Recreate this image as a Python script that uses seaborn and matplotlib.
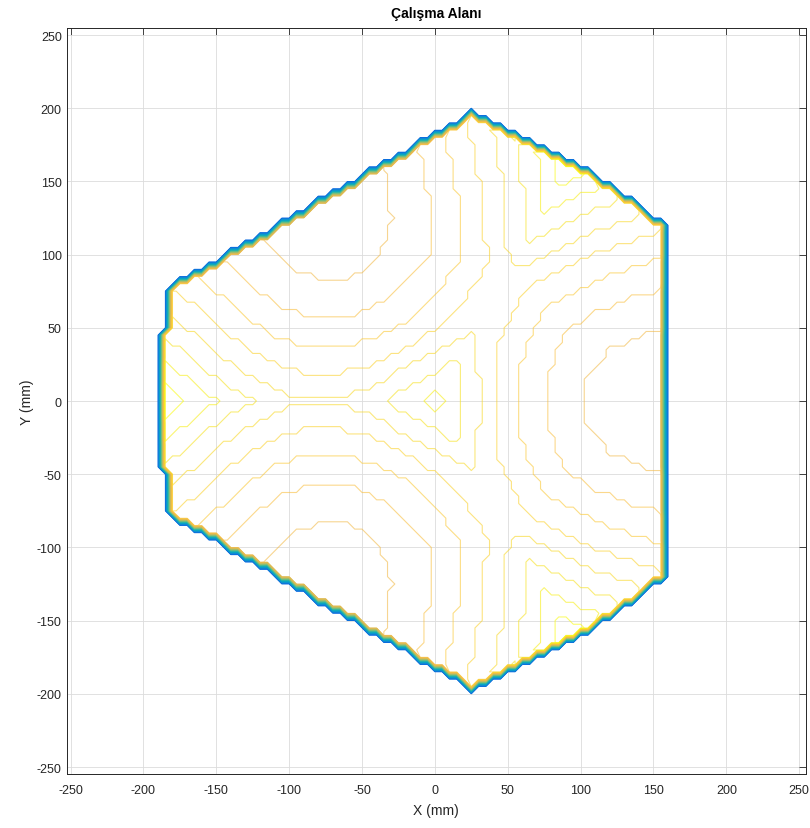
import numpy as np
import matplotlib
matplotlib.use('Agg')
import matplotlib.pyplot as plt
import seaborn as sns
from matplotlib.colors import LinearSegmentedColormap, Normalize

# workspace outline (mm)
GRID_STEP = 5
LONG_EDGE_DIST = 157          # three straight sides (normals at 0, 120, 240 deg)
ARC_CENTER_DIST = 393         # three curved short sides
ARC_RADIUS = 580

# contour level read along the ridge / valley directions of the picture
LEFT_RIDGE_R = [0, 10, 33, 60, 80, 100, 123, 149, 170, 185, 200]
LEFT_RIDGE_V = [29.9, 29.45, 28.5, 27.7, 27.6, 27.8, 28.5, 29.5, 30.5, 31.3, 32.0]
SIDE_RIDGE_R = [0, 10, 33, 50, 60, 80, 100, 112, 123, 149, 170, 185, 200]
SIDE_RIDGE_V = [29.9, 29.45, 28.5, 27.75, 27.45, 27.4, 27.45, 27.9, 28.5, 29.5, 30.5, 31.3, 32.0]
BASIN_R = [0, 5, 16, 31, 41, 56, 77, 101, 125, 150, 200]
BASIN_V = [29.9, 29.5, 28.5, 27.5, 26.5, 25.5, 24.5, 23.5, 23.0, 22.8, 22.6]

TICKS = [-250, -200, -150, -100, -50, 0, 50, 100, 150, 200, 250]
TITLE = 'Çalışma Alanı'
XLABEL = 'X (mm)'
YLABEL = 'Y (mm)'

PARULA = [
    (0.2081, 0.1663, 0.5292), (0.1959, 0.2645, 0.7279), (0.0117, 0.3875, 0.8820),
    (0.0498, 0.4586, 0.8641), (0.0793, 0.5200, 0.8312), (0.0343, 0.5966, 0.8199),
    (0.0228, 0.6535, 0.7768), (0.0843, 0.6928, 0.7062), (0.2178, 0.7250, 0.6193),
    (0.3953, 0.7459, 0.5244), (0.5709, 0.7485, 0.4494), (0.7184, 0.7411, 0.3905),
    (0.8507, 0.7299, 0.3360), (0.9739, 0.7314, 0.2666), (0.9880, 0.8066, 0.1794),
    (0.9626, 0.8705, 0.1309), (0.9763, 0.9831, 0.0538),
]


def build_field():
    ax_vals = np.arange(-250, 250 + GRID_STEP, GRID_STEP)
    X, Y = np.meshgrid(ax_vals, ax_vals)
    inside = np.ones_like(X, dtype=bool)
    for a in np.deg2rad([0, 120, 240]):
        inside &= X * np.cos(a) + Y * np.sin(a) <= LONG_EDGE_DIST
        cx, cy = ARC_CENTER_DIST * np.cos(a), ARC_CENTER_DIST * np.sin(a)
        inside &= np.hypot(X - cx, Y - cy) <= ARC_RADIUS

    r = np.hypot(X, Y)
    th = np.arctan2(Y, X)
    w = np.sqrt((1 + np.cos(3 * th)) / 2)
    # ridge profile switches where the valley weight is 1, so no seam
    ridge = np.where(np.abs(th) > 2 * np.pi / 3,
                     np.interp(r, LEFT_RIDGE_R, LEFT_RIDGE_V),
                     np.interp(r, SIDE_RIDGE_R, SIDE_RIDGE_V))
    f = (1 - w) * ridge + w * np.interp(r, BASIN_R, BASIN_V)
    Z = np.where(inside, np.round(f), 0.0)
    return X, Y, Z


sns.set_style('white')
plt.rcParams['font.family'] = ['Liberation Sans', 'DejaVu Sans']
plt.rcParams['axes.unicode_minus'] = False

X, Y, Z = build_field()
levels = np.arange(0.5, Z.max() + 0.5, 1.0)
cmap = LinearSegmentedColormap.from_list('parula', PARULA)
norm = Normalize(vmin=-4, vmax=levels.max())
low = levels[levels < 23]
high = levels[levels > 23]

fig = plt.figure(figsize=(8.10, 8.29), dpi=100)
ax = fig.add_axes([0.0823, 0.0651, 0.9128, 0.9003])
ax.contour(X, Y, Z, levels=low, cmap=cmap, norm=norm, linewidths=0.8)
ax.contour(X, Y, Z, levels=high, cmap=cmap, norm=norm, linewidths=0.8, alpha=0.6)

ax.set_xlim(-252.7, 254.7)
ax.set_ylim(-254.8, 255)
ax.set_xticks(TICKS)
ax.set_yticks(TICKS)
ax.grid(True, color='#dcdcdc', linewidth=0.6)
ax.set_axisbelow(True)
ax.tick_params(direction='in', length=5, width=0.6, top=True, right=True,
               labelsize=9, colors='#262626')
ax.tick_params(axis='x', pad=7)
for s in ax.spines.values():
    s.set_color('#262626')
    s.set_linewidth(0.7)

ax.set_xlabel(XLABEL, fontsize=10, color='#262626', labelpad=5)
ax.set_ylabel(YLABEL, fontsize=10, color='#262626', labelpad=2)
ax.set_title(TITLE, fontsize=10, fontweight='bold', color='black', pad=8)

fig.savefig('out.png', dpi=100)
